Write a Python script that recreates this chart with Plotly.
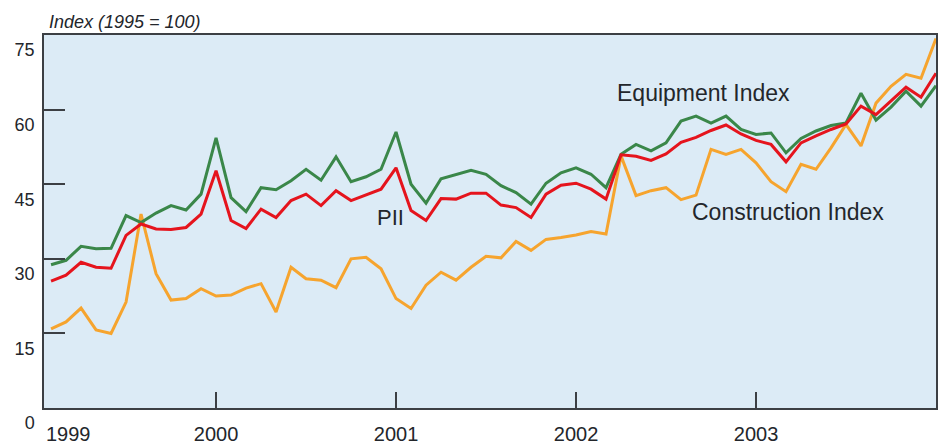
import plotly.graph_objects as go

# Monthly observations, Feb 1999 .. Jan 2004 (index 0..59)
months = list(range(60))

equipment = [28.8, 29.7, 32.5, 32.0, 32.1, 38.7, 37.3, 39.2, 40.7, 39.8, 43.0,
             54.3, 42.3, 39.5, 44.3, 43.9, 45.7, 48.0, 45.8, 50.5,
             45.5, 46.5, 48.0, 55.5, 45.0, 41.2, 46.1, 47.0, 47.8, 47.0, 44.7,
             43.3, 41.0, 45.2, 47.3, 48.3, 47.0, 44.3, 51.0, 53.0,
             51.7, 53.3, 57.7, 58.7, 57.3, 58.7, 56.0, 55.0, 55.3,
             51.3, 54.2, 55.7, 56.8, 57.3, 63.3, 57.9, 60.5, 63.7, 60.7, 64.8]

pii = [25.5, 26.7, 29.3, 28.3, 28.1, 34.7, 37.0, 36.0, 35.9, 36.3, 39.0,
       47.7, 37.7, 36.1, 40.0, 38.3, 41.7, 43.0, 40.7, 43.7,
       41.7, 42.8, 44.0, 48.3, 39.7, 37.7, 42.1, 42.0, 43.2, 43.2, 40.8,
       40.3, 38.3, 43.0, 44.8, 45.2, 44.0, 42.0, 50.9, 50.6,
       49.8, 51.1, 53.4, 54.4, 55.8, 56.9, 55.1, 53.8, 53.0,
       49.5, 53.3, 54.7, 56.0, 57.1, 60.7, 59.0, 61.8, 64.5, 62.5, 67.3]

construction = [15.9, 17.3, 20.1, 15.7, 15.0, 21.3, 39.0, 27.0, 21.7, 22.0, 24.0,
                22.5, 22.7, 24.1, 25.0, 19.3, 28.3, 26.0, 25.7, 24.2,
                30.0, 30.3, 28.0, 22.0, 20.0, 24.7, 27.3, 25.7, 28.3, 30.5, 30.2,
                33.5, 31.7, 33.9, 34.3, 34.8, 35.5, 35.0, 50.7, 42.7,
                43.7, 44.3, 41.9, 42.8, 52.0, 51.0, 52.0, 49.3, 45.5,
                43.5, 49.0, 48.0, 52.3, 57.0, 52.7, 61.3, 64.7, 67.1, 66.3, 74.3]

year_labels = ["1999", "2000", "2001", "2002", "2003"]
year_tick_months = [11, 23, 35, 47]          # January of 2000..2003
y_ticks = [0, 15, 30, 45, 60, 75]

series_labels = ["Construction Index", "Equipment Index", "PII"]

GREEN = "#3a8749"
RED = "#e5141d"
ORANGE = "#f6a42e"
AXIS = "#3c3f44"
TEXT = "#23262b"
FONT = "Liberation Sans, Arial, Helvetica, sans-serif"

fig = go.Figure()
fig.add_trace(go.Scatter(x=months, y=construction, mode="lines", name=series_labels[0],
                         line=dict(color=ORANGE, width=3), hoverinfo="skip"))
fig.add_trace(go.Scatter(x=months, y=equipment, mode="lines", name=series_labels[1],
                         line=dict(color=GREEN, width=3), hoverinfo="skip"))
fig.add_trace(go.Scatter(x=months, y=pii, mode="lines", name=series_labels[2],
                         line=dict(color=RED, width=3), hoverinfo="skip"))

fig.update_layout(
    width=940, height=447,
    margin=dict(l=44, r=2, t=35, b=37),
    paper_bgcolor="white",
    plot_bgcolor="#dcebf6",
    showlegend=False,
    font=dict(family=FONT, color=TEXT),
    xaxis=dict(
        range=[-0.47, 59.0],
        tickmode="array", tickvals=year_tick_months, ticktext=year_labels[1:],
        ticks="inside", ticklen=16, tickwidth=1.5, tickcolor=AXIS,
        showline=True, linecolor=AXIS, linewidth=1.5, mirror=True,
        showgrid=False, zeroline=False,
        tickfont=dict(size=20, family=FONT, color=TEXT),
        ticklabelstandoff=7,
    ),
    yaxis=dict(
        range=[0, 75],
        tickmode="array", tickvals=y_ticks, ticktext=[str(v) for v in y_ticks],
        ticks="inside", ticklen=21, tickwidth=1.5, tickcolor=AXIS,
        showline=True, linecolor=AXIS, linewidth=1.5, mirror=True,
        showgrid=False, zeroline=False,
        tickfont=dict(size=18, family=FONT, color=TEXT),
        ticklabelshift=15,
        ticklabelstandoff=4,
    ),
)

annotations = [
    dict(text="<i>Index (1995 = 100)</i>", xref="paper", yref="paper",
         x=0.003, y=1.036, xanchor="left", yanchor="middle", showarrow=False,
         font=dict(size=18, family=FONT, color=TEXT)),
    dict(text=year_labels[0], xref="paper", yref="paper",
         x=0.0, y=-0.07, xanchor="left", yanchor="middle", showarrow=False,
         font=dict(size=20, family=FONT, color=TEXT)),
    dict(text=series_labels[1], x=37.6, y=63.4, xanchor="left", yanchor="middle",
         showarrow=False, font=dict(size=23, family=FONT, color=TEXT)),
    dict(text=series_labels[2], x=22.6, y=38.4, xanchor="center", yanchor="middle",
         showarrow=False, font=dict(size=22, family=FONT, color=TEXT)),
    dict(text=series_labels[0], x=42.6, y=39.5, xanchor="left", yanchor="middle",
         showarrow=False, font=dict(size=23, family=FONT, color=TEXT)),
]
fig.update_layout(annotations=annotations)

fig.write_html("out.html", config={"displayModeBar": False},
               post_script="document.body.style.margin='0';")
